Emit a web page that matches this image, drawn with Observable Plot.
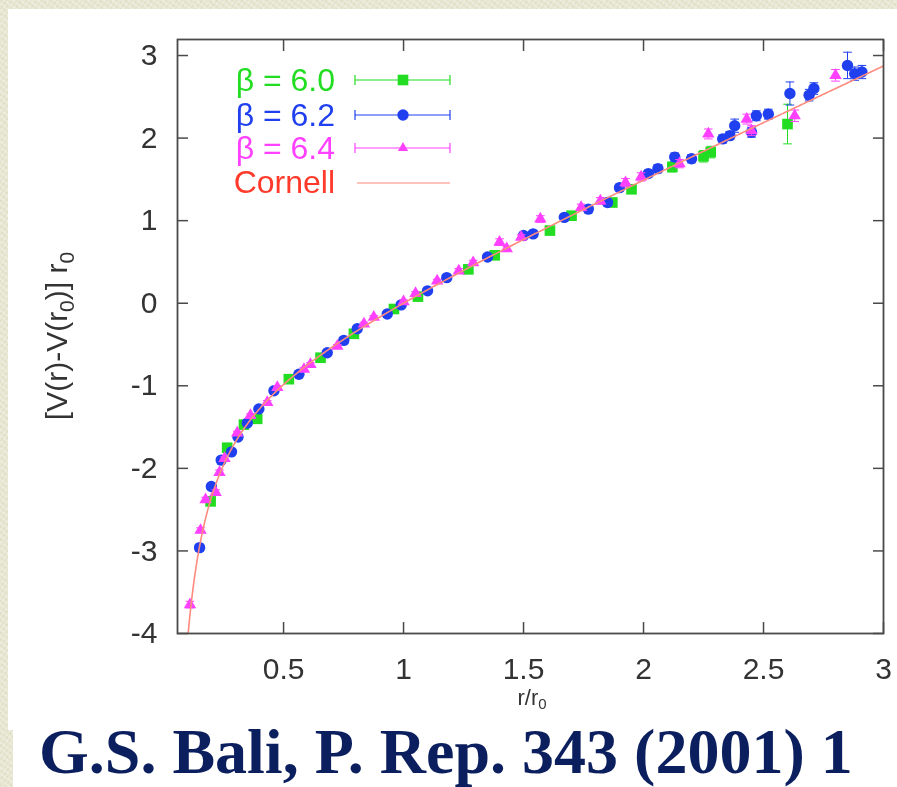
<!DOCTYPE html>
<html>
<head>
<meta charset="utf-8">
<script src="https://cdn.jsdelivr.net/npm/d3@7"></script>
<script src="https://cdn.jsdelivr.net/npm/@observablehq/plot@0.6"></script>
<style>
  html, body { margin: 0; padding: 0; }
  body {
    width: 897px; height: 787px; position: relative; overflow: hidden;
    background-color: #e7e6d1;
    background-image:
      repeating-linear-gradient(37deg, rgba(255,255,255,0.25) 0 2px, rgba(0,0,0,0) 2px 5px),
      repeating-linear-gradient(-53deg, rgba(150,150,110,0.10) 0 1px, rgba(0,0,0,0) 1px 4px);
  }
  #panel { position: absolute; left: 8px; top: 9px; width: 889px; height: 721px; background: #fff; }
  #chart { position: absolute; left: 8px; top: 9px; }
  #chart svg { filter: blur(0.7px); }
  #caption {
    position: absolute; left: 13px; top: 720px; width: 884px; height: 67px;
    background: #fff; box-sizing: border-box; padding: 0 0 0 26px;
    font-family: "Liberation Serif", "Times New Roman", serif; font-weight: bold;
    font-size: 64px; line-height: 1; color: #0b1f5e; white-space: nowrap;
  }
</style>
</head>
<body>
<div id="panel"></div>
<div id="chart"></div>
<div id="caption">G.S. Bali, P. Rep. 343 (2001) 1</div>
<script>
// Static quark potential, lattice data in units of r0: [x = r/r0, y = [V(r)-V(r0)] r0, error]
const beta60 = [
  [0.196, -2.40, 0.04], [0.265, -1.75, 0.03], [0.335, -1.47, 0.03], [0.390, -1.40, 0.03],
  [0.522, -0.92, 0.02], [0.654, -0.66, 0.02], [0.793, -0.37, 0.02], [0.960, -0.07, 0.02],
  [1.060, 0.08, 0.02], [1.270, 0.41, 0.03], [1.380, 0.58, 0.03], [1.610, 0.88, 0.04],
  [1.700, 1.06, 0.04], [1.870, 1.22, 0.05], [1.950, 1.38, 0.05], [2.120, 1.65, 0.06],
  [2.250, 1.78, 0.07], [2.280, 1.83, 0.07], [2.600, 2.17, 0.24]
];
const beta62 = [
  [0.150, -2.96, 0.04], [0.199, -2.22, 0.03], [0.240, -1.90, 0.03], [0.283, -1.80, 0.03],
  [0.310, -1.62, 0.02], [0.349, -1.45, 0.02], [0.397, -1.28, 0.02], [0.460, -1.06, 0.02],
  [0.564, -0.86, 0.02], [0.682, -0.60, 0.02], [0.751, -0.45, 0.02], [0.807, -0.31, 0.02],
  [0.932, -0.13, 0.02], [0.990, -0.02, 0.02], [1.100, 0.15, 0.02], [1.180, 0.31, 0.02],
  [1.350, 0.56, 0.03], [1.500, 0.82, 0.03], [1.540, 0.84, 0.03], [1.670, 1.04, 0.03],
  [1.770, 1.14, 0.04], [1.850, 1.22, 0.04], [1.900, 1.40, 0.04], [2.020, 1.57, 0.04],
  [2.060, 1.63, 0.05], [2.130, 1.77, 0.05], [2.200, 1.75, 0.05], [2.330, 1.99, 0.05],
  [2.360, 2.03, 0.05], [2.380, 2.15, 0.08], [2.450, 2.07, 0.06], [2.470, 2.27, 0.06],
  [2.520, 2.29, 0.06], [2.610, 2.54, 0.14], [2.690, 2.52, 0.07], [2.710, 2.60, 0.07],
  [2.850, 2.88, 0.16], [2.880, 2.78, 0.08], [2.910, 2.80, 0.08]
];
const beta64 = [
  [0.110, -3.65, 0.04], [0.154, -2.75, 0.03], [0.175, -2.38, 0.03], [0.217, -2.29, 0.03],
  [0.233, -2.05, 0.03], [0.254, -1.88, 0.02], [0.307, -1.57, 0.02], [0.362, -1.36, 0.02],
  [0.432, -1.20, 0.02], [0.474, -1.02, 0.02], [0.585, -0.80, 0.02], [0.612, -0.74, 0.02],
  [0.724, -0.52, 0.02], [0.835, -0.25, 0.02], [0.876, -0.17, 0.02], [1.000, 0.02, 0.02],
  [1.050, 0.12, 0.02], [1.140, 0.27, 0.02], [1.230, 0.39, 0.03], [1.290, 0.49, 0.03],
  [1.400, 0.74, 0.04], [1.430, 0.66, 0.03], [1.490, 0.80, 0.03], [1.570, 1.02, 0.04],
  [1.740, 1.16, 0.04], [1.820, 1.24, 0.04], [1.925, 1.46, 0.05], [1.990, 1.53, 0.05],
  [2.150, 1.69, 0.05], [2.270, 2.05, 0.06], [2.430, 2.23, 0.06], [2.450, 2.09, 0.06],
  [2.630, 2.27, 0.07], [2.800, 2.76, 0.07]
];

const seriesNames = ["β = 6.0", "β = 6.2", "β = 6.4"];
const fitName = "Cornell";
const xTicks = [0.5, 1, 1.5, 2, 2.5, 3];
const yTicks = [-4, -3, -2, -1, 0, 1, 2, 3];

// Cornell fit: sigma r0^2 (x - 1) - e (1/x - 1), with sigma r0^2 + e = 1.65
const sigmaR0sq = 1.33;
const eCoulomb = 0.32;

const GREEN = "#22dd22", BLUE = "#2040f0", MAGENTA = "#ff40ff", RED = "#ff3a2a", FIT = "#ff8a7e";
const AXIS = "#4a4a4a";

const rows = (arr) => arr.map(([x, y, e]) => ({x, y, e}));
const s60 = rows(beta60), s62 = rows(beta62), s64 = rows(beta64);
const fit = d3.range(0.095, 3.0001, 0.004).map(x => ({x, y: sigmaR0sq * (x - 1) - eCoulomb * (1 / x - 1)}));

const capHalf = 0.018;
const errorMarks = (data, color) => [
  Plot.ruleX(data, {x: "x", y1: d => d.y - d.e, y2: d => d.y + d.e, stroke: color, strokeWidth: 1}),
  Plot.link(data, {x1: d => d.x - capHalf, x2: d => d.x + capHalf, y1: d => d.y + d.e, y2: d => d.y + d.e, stroke: color, strokeWidth: 1}),
  Plot.link(data, {x1: d => d.x - capHalf, x2: d => d.x + capHalf, y1: d => d.y - d.e, y2: d => d.y - d.e, stroke: color, strokeWidth: 1})
];

const W = 889, H = 710;
const chart = Plot.plot({
  width: W, height: H,
  marginLeft: 169, marginRight: 14, marginTop: 30, marginBottom: 86,
  x: {domain: [0.058, 3]},
  y: {domain: [-4, 3.194]},
  style: {fontFamily: "'Liberation Sans', Arial, sans-serif", fontSize: "30px", color: "#333", background: "transparent", overflow: "visible"},
  marks: [
    Plot.axisX(xTicks, {tickSize: 0, tickPadding: 24, tickFormat: d => String(d), label: null, fill: "#333"}),
    Plot.axisX(xTicks, {tickSize: -11, fill: "none", label: null, stroke: AXIS, strokeWidth: 1.5}),
    Plot.axisX(xTicks, {anchor: "top", tickSize: -11, fill: "none", label: null, stroke: AXIS, strokeWidth: 1.5}),
    Plot.axisY(yTicks, {tickSize: 0, tickPadding: 20, tickFormat: d => String(d), label: null, fill: "#333"}),
    Plot.axisY(yTicks, {tickSize: -11, fill: "none", label: null, stroke: AXIS, strokeWidth: 1.5}),
    Plot.axisY(yTicks, {anchor: "right", tickSize: -11, fill: "none", label: null, stroke: AXIS, strokeWidth: 1.5}),
    ...errorMarks(s60, GREEN),
    Plot.dot(s60, {x: "x", y: "y", symbol: "square", r: 6, fill: GREEN}),
    ...errorMarks(s62, BLUE),
    Plot.dot(s62, {x: "x", y: "y", symbol: "circle", r: 5.7, fill: BLUE}),
    ...errorMarks(s64, MAGENTA),
    Plot.dot(s64, {x: "x", y: "y", symbol: "triangle", r: 4.6, fill: MAGENTA}),
    Plot.line(fit, {x: "x", y: "y", stroke: FIT, strokeWidth: 1.6, clip: true}),
    Plot.frame({stroke: AXIS, strokeWidth: 1.8})
  ]
});
document.getElementById("chart").appendChild(chart);

const svg = d3.select(chart);
const font = "'Liberation Sans', Arial, sans-serif";

// y-axis title with subscripts
const yTitle = svg.append("text")
  .attr("transform", "translate(59,327) rotate(-90)")
  .attr("text-anchor", "middle")
  .attr("font-family", font).attr("font-size", 30).attr("fill", "#333");
yTitle.append("tspan").text("[V(r)-V(r");
yTitle.append("tspan").attr("font-size", 21).attr("dy", 7).text("0");
yTitle.append("tspan").attr("dy", -7).text(")] r");
yTitle.append("tspan").attr("font-size", 21).attr("dy", 7).text("0");

// x-axis title
const xTitle = svg.append("text")
  .attr("x", 524).attr("y", 696)
  .attr("text-anchor", "middle")
  .attr("font-family", font).attr("font-size", 22).attr("fill", "#333");
xTitle.append("tspan").text("r/r");
xTitle.append("tspan").attr("font-size", 15).attr("dy", 4).text("0");

// key, top left inside the frame
const key = svg.append("g").attr("font-family", font).attr("font-size", 32);
const keyRows = [
  {label: seriesNames[0], color: GREEN, sym: d3.symbolSquare, size: Math.PI * 6 * 6, y: 71},
  {label: seriesNames[1], color: BLUE, sym: d3.symbolCircle, size: Math.PI * 5.7 * 5.7, y: 106},
  {label: seriesNames[2], color: MAGENTA, sym: d3.symbolTriangle, size: Math.PI * 3.8 * 3.8, y: 139}
];
const kx0 = 347, kx1 = 442, kxm = 395, textEnd = 327;
for (const r of keyRows) {
  key.append("text").attr("x", textEnd).attr("y", r.y).attr("dy", "0.35em")
    .attr("text-anchor", "end").attr("fill", r.color).text(r.label);
  key.append("line").attr("x1", kx0).attr("x2", kx1).attr("y1", r.y).attr("y2", r.y)
    .attr("stroke", r.color).attr("stroke-width", 1.2);
  for (const cx of [kx0, kx1]) {
    key.append("line").attr("x1", cx).attr("x2", cx).attr("y1", r.y - 5).attr("y2", r.y + 5)
      .attr("stroke", r.color).attr("stroke-width", 1.2);
  }
  key.append("path").attr("transform", `translate(${kxm},${r.y})`)
    .attr("d", d3.symbol(r.sym, r.size)()).attr("fill", r.color);
}
key.append("text").attr("x", textEnd).attr("y", 173).attr("dy", "0.35em")
  .attr("text-anchor", "end").attr("fill", RED).text(fitName);
key.append("line").attr("x1", kx0 + 2).attr("x2", kx1).attr("y1", 174).attr("y2", 174)
  .attr("stroke", FIT).attr("stroke-width", 1.6).attr("opacity", 0.7);
</script>
</body>
</html>
